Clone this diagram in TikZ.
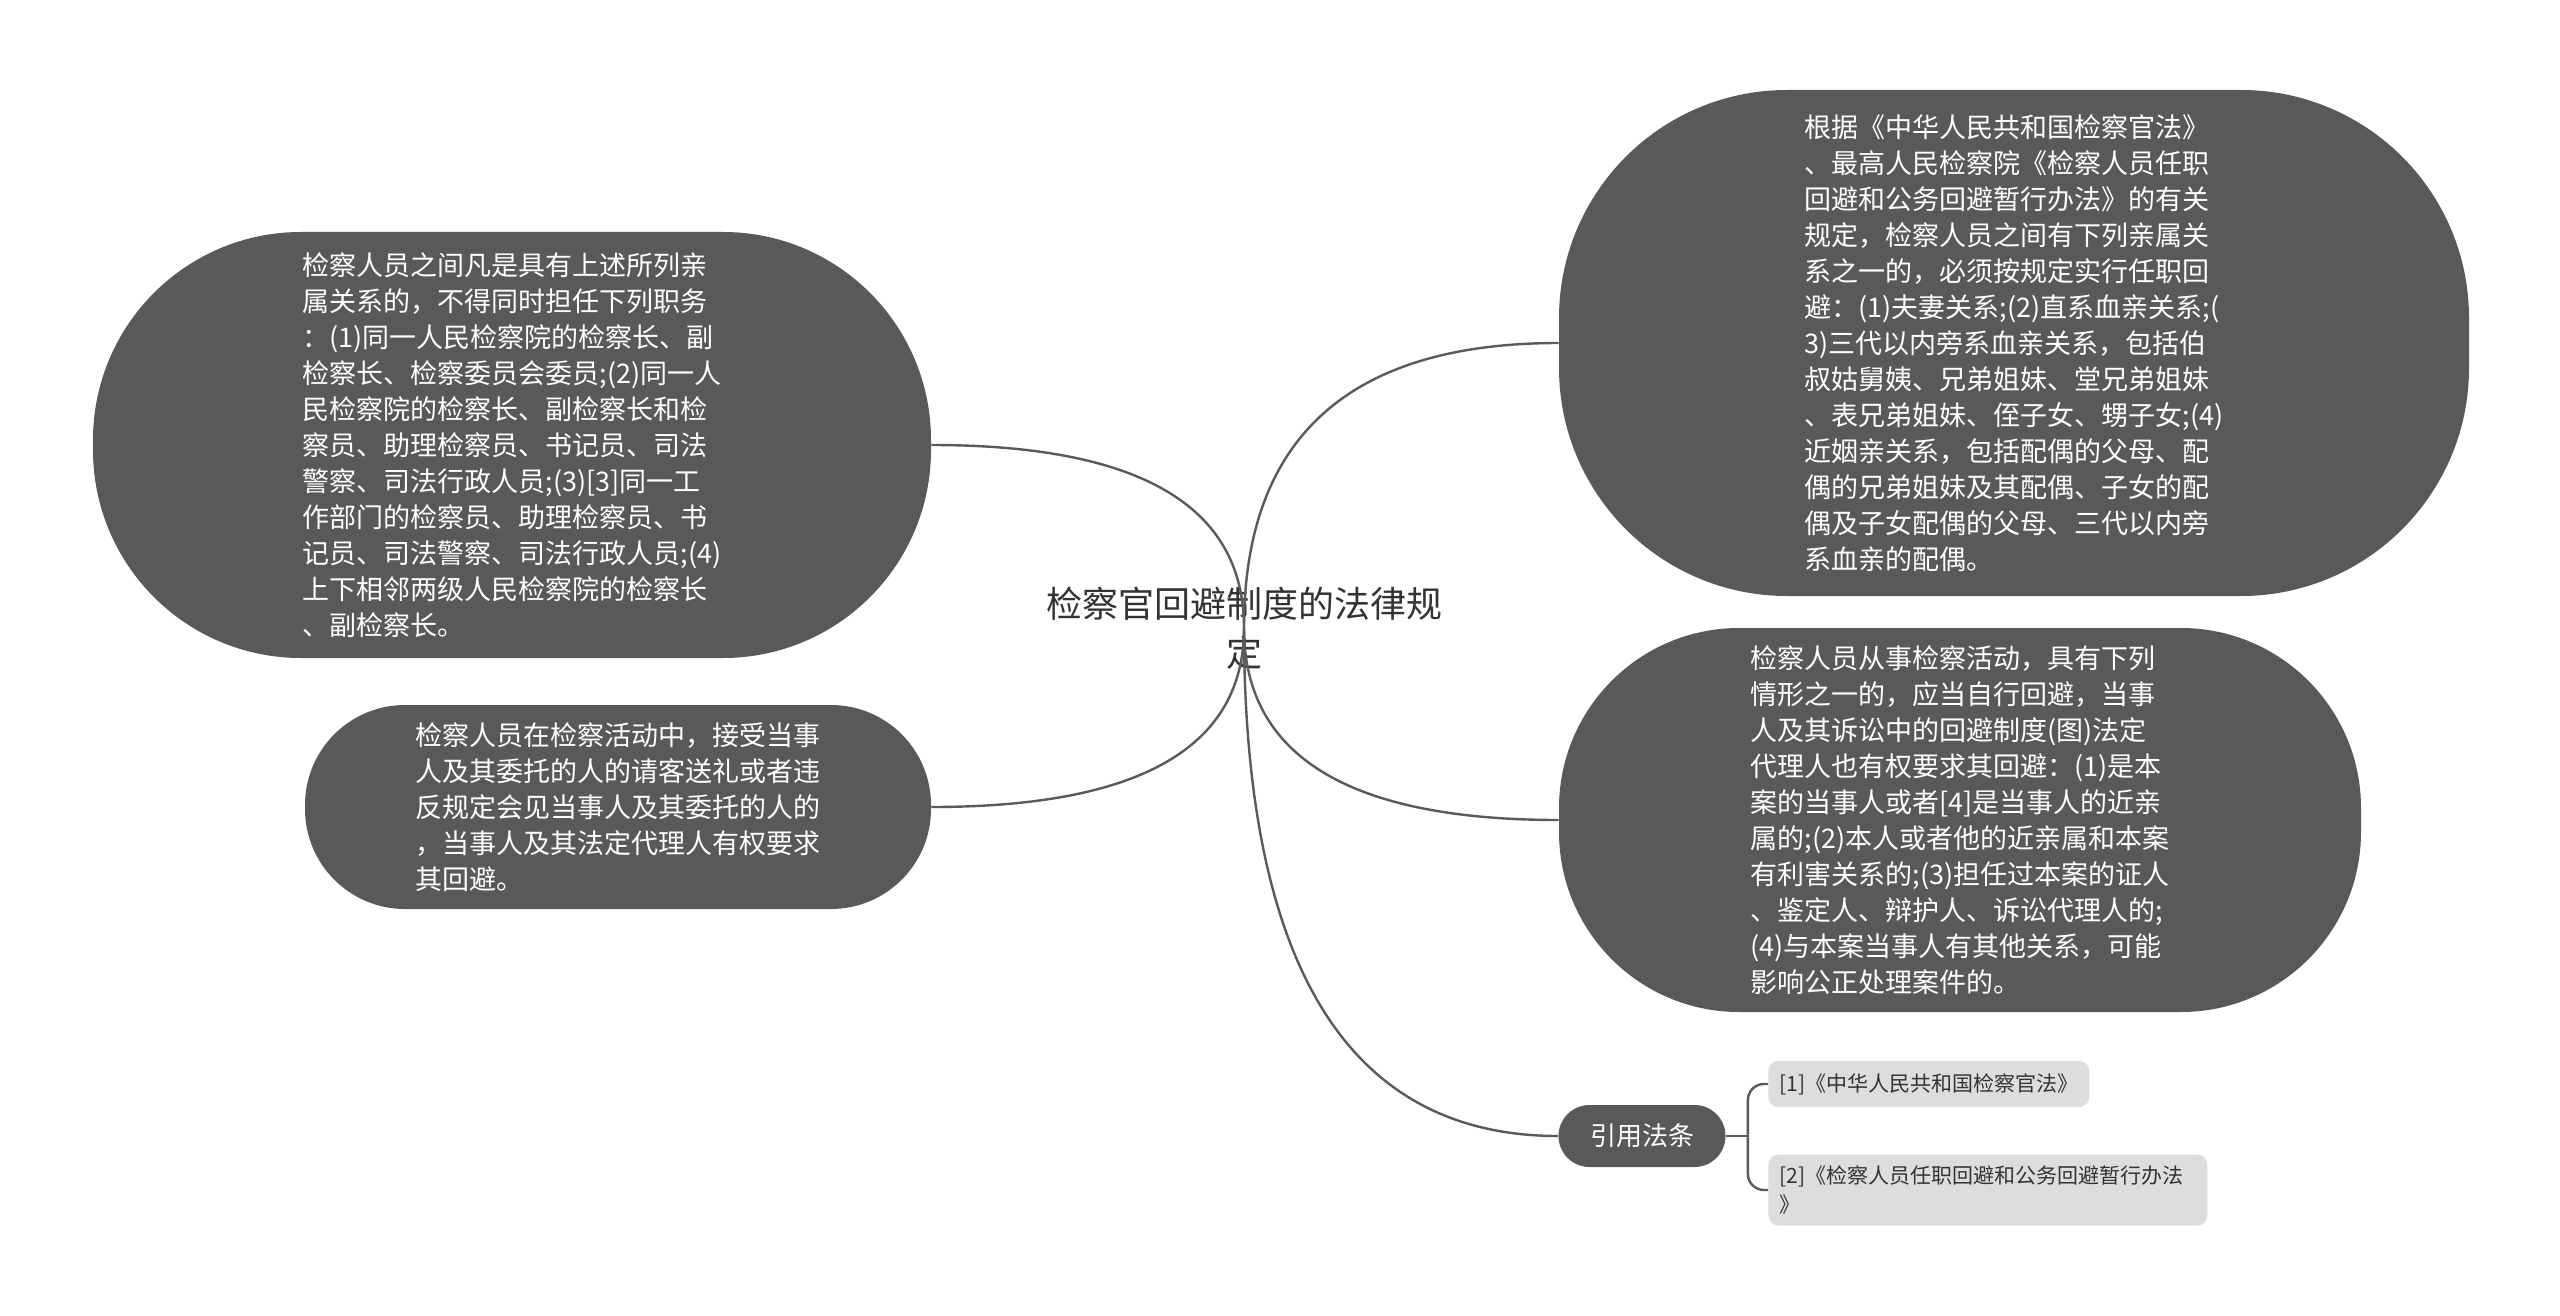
\documentclass[tikz,border=0pt]{standalone}
\usepackage{fontspec}
\setmainfont{Noto Sans CJK SC}
\usetikzlibrary{calc}
\definecolor{nodegray}{RGB}{89,89,89}
\definecolor{linegray}{RGB}{90,90,90}
\definecolor{textdark}{RGB}{51,51,51}
\definecolor{reffill}{RGB}{221,221,221}

\begin{document}
\begin{tikzpicture}[
    x=0.5pt, y=-0.5pt,
    topic/.style={align=center, text=textdark, font=\fontsize{18}{24.5}\selectfont},
    bigblock/.style={rectangle, fill=nodegray, text=white, align=left, inner sep=0pt, font=\fontsize{13.5}{18}\selectfont},
    tagblock/.style={rectangle, rounded corners=15.5pt, fill=nodegray, text=white, minimum width=83.5pt, minimum height=31pt, inner sep=0pt, font=\fontsize{13}{16}\selectfont},
    refblock/.style={rectangle, rounded corners=5pt, fill=reffill, text=textdark, anchor=west, align=left, inner xsep=5.5pt, inner ysep=0pt, font=\fontsize{10.5}{14.5}\selectfont},
    branch/.style={draw=linegray, line width=1.2pt}
]

\fill[white] (0,0) rectangle (2560,1316);
\useasboundingbox (0,0) rectangle (2560,1316);

% === CENTRAL TOPIC ===
\node[topic] (root) at (1244,628) {检察官回避制度的法律规\\定};

% === RIGHT BRANCHES ===
\node[bigblock, rounded corners=114pt, minimum width=455pt, minimum height=253pt] (kin) at (2014,343) {根据《中华人民共和国检察官法》\\、最高人民检察院《检察人员任职\\回避和公务回避暂行办法》的有关\\规定，检察人员之间有下列亲属关\\系之一的，必须按规定实行任职回\\避：(1)夫妻关系;(2)直系血亲关系;(\\3)三代以内旁系血亲关系，包括伯\\叔姑舅姨、兄弟姐妹、堂兄弟姐妹\\、表兄弟姐妹、侄子女、甥子女;(4)\\近姻亲关系，包括配偶的父母、配\\偶的兄弟姐妹及其配偶、子女的配\\偶及子女配偶的父母、三代以内旁\\系血亲的配偶。};
\node[bigblock, rounded corners=90pt, minimum width=401pt, minimum height=192pt] (cases) at (1960,820) {检察人员从事检察活动，具有下列\\情形之一的，应当自行回避，当事\\人及其诉讼中的回避制度(图)法定\\代理人也有权要求其回避：(1)是本\\案的当事人或者[4]是当事人的近亲\\属的;(2)本人或者他的近亲属和本案\\有利害关系的;(3)担任过本案的证人\\、鉴定人、辩护人、诉讼代理人的;\\(4)与本案当事人有其他关系，可能\\影响公正处理案件的。};
\node[tagblock] (cite) at (1642,1136) {引用法条};

% === LEFT BRANCHES ===
\node[bigblock, rounded corners=104pt, minimum width=419pt, minimum height=213pt] (posts) at (512,445) {检察人员之间凡是具有上述所列亲\\属关系的，不得同时担任下列职务\\：(1)同一人民检察院的检察长、副\\检察长、检察委员会委员;(2)同一人\\民检察院的检察长、副检察长和检\\察员、助理检察员、书记员、司法\\警察、司法行政人员;(3)[3]同一工\\作部门的检察员、助理检察员、书\\记员、司法警察、司法行政人员;(4)\\上下相邻两级人民检察院的检察长\\、副检察长。};
\node[bigblock, rounded corners=50pt, minimum width=313pt, minimum height=102pt] (gifts) at (618,807) {检察人员在检察活动中，接受当事\\人及其委托的人的请客送礼或者违\\反规定会见当事人及其委托的人的\\，当事人及其法定代理人有权要求\\其回避。};

% === CITED LAWS ===
\node[refblock, minimum height=23pt] (law1) at (1768,1084) {[1]《中华人民共和国检察官法》};
\node[refblock, text width=208.5pt, minimum height=35.5pt] (law2) at (1768,1190) {[2]《检察人员任职回避和公务回避暂行办法\\》};

% Branch curves
\draw[branch] (root.center) .. controls ($(root.center)!0.667!(root.center |- kin.west)$) and ($(kin.west)!0.667!(root.center |- kin.west)$) .. (kin.west);
\draw[branch] (root.center) .. controls ($(root.center)!0.667!(root.center |- cases.west)$) and ($(cases.west)!0.667!(root.center |- cases.west)$) .. (cases.west);
\draw[branch] (root.center) .. controls ($(root.center)!0.667!(root.center |- cite.west)$) and ($(cite.west)!0.667!(root.center |- cite.west)$) .. (cite.west);
\draw[branch] (root.center) .. controls ($(root.center)!0.667!(root.center |- posts.east)$) and ($(posts.east)!0.667!(root.center |- posts.east)$) .. (posts.east);
\draw[branch] (root.center) .. controls ($(root.center)!0.667!(root.center |- gifts.east)$) and ($(gifts.east)!0.667!(root.center |- gifts.east)$) .. (gifts.east);

% Cited laws bracket
\coordinate (fork) at ($(cite.east)+(22,0)$);
\draw[branch] (cite.east) -- (fork);
\draw[branch, rounded corners=8pt] (fork) |- (law1.west);
\draw[branch, rounded corners=8pt] (fork) |- (law2.west);

\end{tikzpicture}
\end{document}
